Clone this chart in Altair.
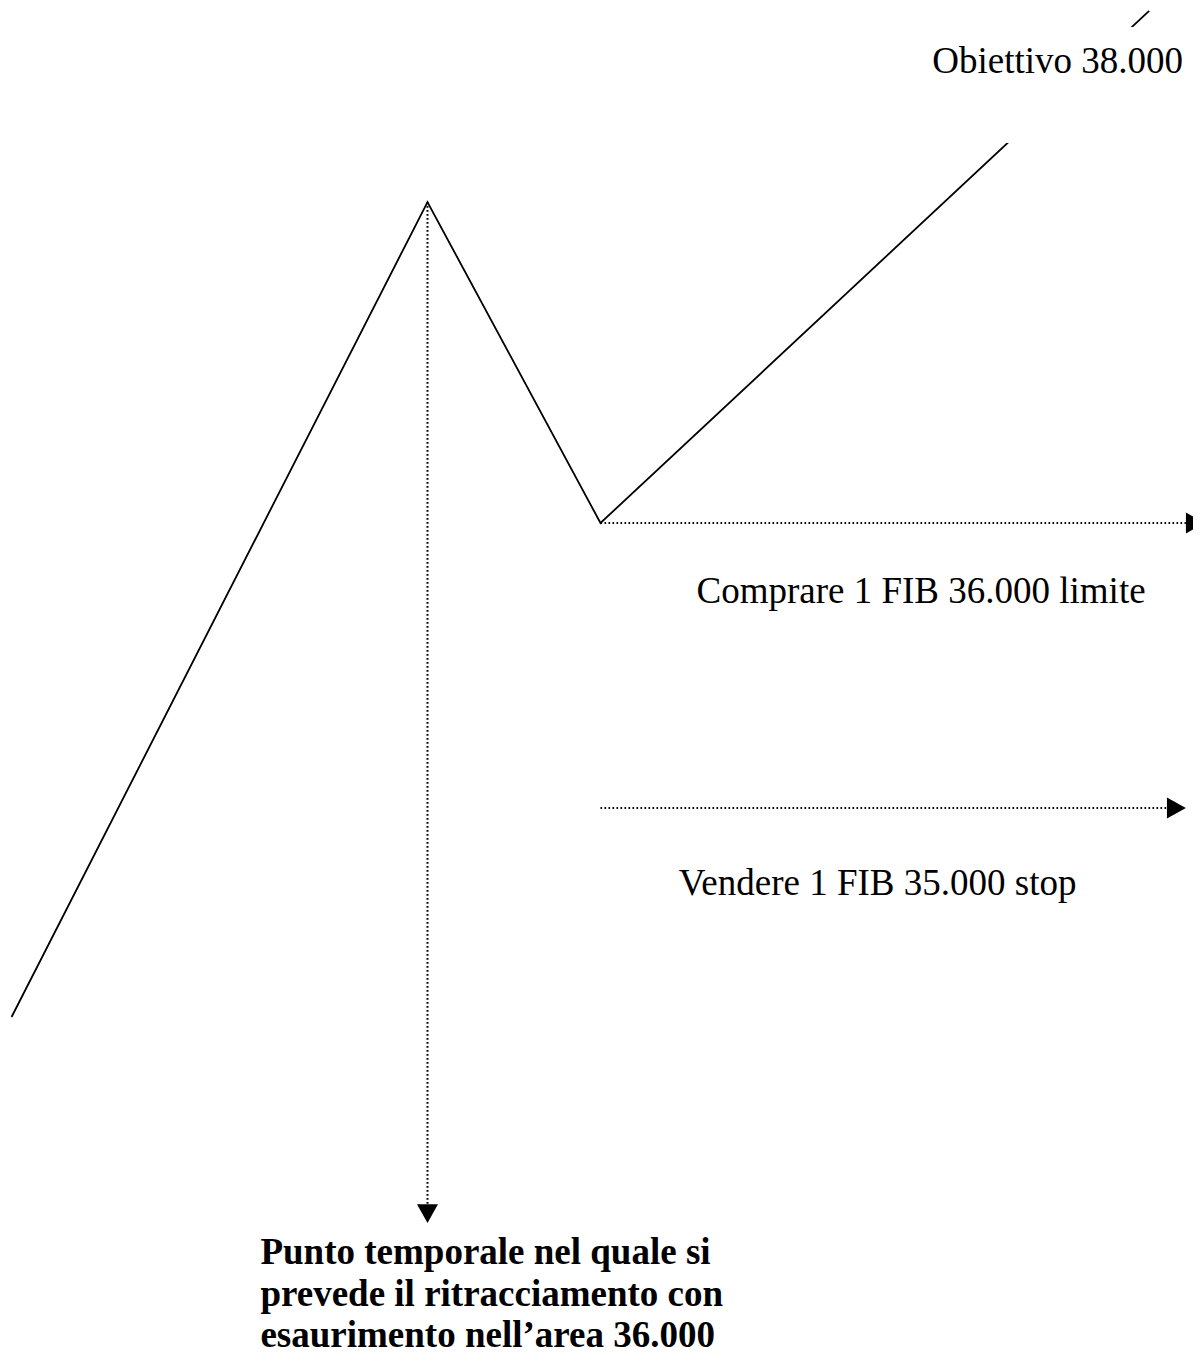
import altair as alt
import pandas as pd

# Scenario path (tempo in arbitrary units 0-100, prezzo in index points)
tempo = [0.3, 35.4, 50.0, 96.3]
prezzo = [34267, 37126, 36000, 37797]

# Order levels
livello_acquisto = 36000
livello_stop = 35000
t_ritracciamento = 35.4

# Extents of dotted guide lines (tempo / prezzo)
guide_acquisto_fine = 99.4
guide_stop_fine = 97.8
guide_tempo_fine = 33610

# Label box (white) hiding part of the path behind "Obiettivo"
box_t = [75.0, 100.0]
box_p = [37333, 37740]

# Text annotations
etichette = ["Obiettivo 38.000", "Comprare 1 FIB 36.000 limite", "Vendere 1 FIB 35.000 stop"]
etichette_t = [78.0, 58.1, 56.6]
etichette_p = [37579, 35719, 34695]

nota = ["Punto temporale nel quale si",
        "prevede il ritracciamento con",
        "esaurimento nell\u2019area 36.000"]
nota_t = [21.3, 21.3, 21.3]
nota_p = [33400, 33253, 33108]

X_DOM = [0, 100]
Y_DOM = [33081, 37807]

def xe(f):
    return alt.X(f, type="quantitative", scale=alt.Scale(domain=X_DOM, nice=False, zero=False), axis=None)

def ye(f):
    return alt.Y(f, type="quantitative", scale=alt.Scale(domain=Y_DOM, nice=False, zero=False), axis=None)

path_df = pd.DataFrame({"t": tempo, "p": prezzo, "ordine": list(range(len(tempo)))})
linea = alt.Chart(path_df).mark_line(color="black", strokeWidth=1.8).encode(
    x=xe("t"), y=ye("p"), order="ordine:Q")

box_df = pd.DataFrame({"t": [box_t[0]], "t2": [box_t[1]], "p": [box_p[0]], "p2": [box_p[1]]})
box = alt.Chart(box_df).mark_rect(color="white").encode(
    x=xe("t"), x2="t2", y=ye("p"), y2="p2")

h_df = pd.DataFrame({"t": [tempo[2], tempo[2]],
                     "t2": [guide_acquisto_fine, guide_stop_fine],
                     "p": [livello_acquisto, livello_stop]})
h_rules = alt.Chart(h_df).mark_rule(color="black", strokeWidth=2, strokeDash=[1.6, 2.4]).encode(
    x=xe("t"), x2="t2", y=ye("p"))

v_df = pd.DataFrame({"t": [t_ritracciamento], "p": [prezzo[1]], "p2": [guide_tempo_fine]})
v_rule = alt.Chart(v_df).mark_rule(color="black", strokeWidth=2, strokeDash=[1.6, 2.4]).encode(
    x=xe("t"), y=ye("p"), y2="p2")

RIGHT = "M-0.9,-1L0.9,0L-0.9,1Z"
DOWN = "M-1,-0.9L1,-0.9L0,0.9Z"

ar_df = pd.DataFrame({"t": [100.2, 98.6], "p": [livello_acquisto, livello_stop]})
arrows_r = alt.Chart(ar_df).mark_point(shape=RIGHT, filled=True, color="black", opacity=1, size=441).encode(
    x=xe("t"), y=ye("p"))

ad_df = pd.DataFrame({"t": [t_ritracciamento], "p": [33577]})
arrow_d = alt.Chart(ad_df).mark_point(shape=DOWN, filled=True, color="black", opacity=1, size=441).encode(
    x=xe("t"), y=ye("p"))

lab_df = pd.DataFrame({"t": etichette_t, "p": etichette_p, "txt": etichette})
labels = alt.Chart(lab_df).mark_text(font="Liberation Serif", fontSize=37, align="left",
                                      baseline="alphabetic", color="black").encode(
    x=xe("t"), y=ye("p"), text="txt:N")

nota_df = pd.DataFrame({"t": nota_t, "p": nota_p, "txt": nota})
note = alt.Chart(nota_df).mark_text(font="Liberation Serif", fontSize=37, fontWeight="bold",
                                     align="left", baseline="alphabetic", color="black").encode(
    x=xe("t"), y=ye("p"), text="txt:N")

chart = alt.layer(linea, box, h_rules, v_rule, arrows_r, arrow_d, labels, note).properties(
    width=1185, height=1347, padding=0,
    autosize=alt.AutoSizeParams(type="none"),
    background="white"
).configure_view(stroke=None)

chart.save("out.html", embed_options={"renderer": "svg", "actions": False})
